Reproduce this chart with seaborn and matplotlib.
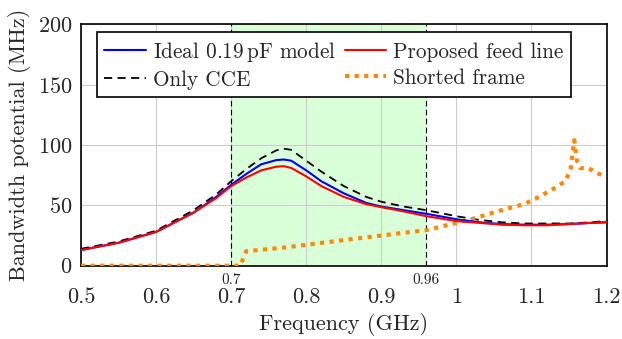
import numpy as np
import pandas as pd
import matplotlib
matplotlib.use("Agg")
import matplotlib.pyplot as plt
import seaborn as sns

# frequency samples (GHz) for the three capacitive curves
freq = [0.50, 0.55, 0.60, 0.65, 0.68, 0.70, 0.72, 0.74, 0.76, 0.77, 0.78,
        0.80, 0.82, 0.85, 0.88, 0.90, 0.93, 0.96, 1.00, 1.03, 1.06, 1.09,
        1.12, 1.15, 1.18, 1.20]
ideal = [13, 19, 28, 44, 57, 67, 76, 84, 87.5, 88, 87,
         79, 70, 60, 52, 49, 46, 43, 38.5, 36, 34.5, 34,
         34, 34.5, 35.5, 36]
proposed = [13, 19, 28, 44, 56, 66, 73, 79, 82, 82.5, 81,
            74, 66, 57, 51, 48.5, 45, 41, 37, 35.5, 34, 33.5,
            33.5, 34.5, 35.5, 36]
only_cce = [14, 20, 29, 46, 59, 70, 80, 89, 95.5, 97, 96,
            87, 78, 66, 57, 53, 49, 46, 41, 38, 36, 35,
            35, 35, 36, 37]

# shorted frame curve
freq_sf = [0.50, 0.60, 0.70, 0.712, 0.72, 0.77, 0.86, 0.96, 1.017, 1.06,
           1.09, 1.11, 1.13, 1.145, 1.152, 1.157, 1.160, 1.165, 1.175,
           1.19, 1.20]
shorted = [0, 0, 0, 0, 12, 15, 22, 29.5, 38, 46,
           51, 57, 64, 70, 80, 104, 88, 81, 81,
           76, 74]

band_lo, band_hi = 0.7, 0.96

sns.set_theme(style="whitegrid")
plt.rcParams['font.family'] = ['cmr10', 'DejaVu Serif']
plt.rcParams['mathtext.fontset'] = 'cm'
plt.rcParams['axes.formatter.use_mathtext'] = True

df = pd.DataFrame({"f": freq, "ideal": ideal, "prop": proposed, "cce": only_cce})
df_sf = pd.DataFrame({"f": freq_sf, "sf": shorted})

fig = plt.figure(figsize=(6.22, 3.39), dpi=100)
ax = fig.add_axes([0.1302, 0.2162, 0.845, 0.712])

ax.axvspan(band_lo, band_hi, color="#d9ffd9", zorder=0)
ax.axvline(band_lo, color="black", ls=(0, (5, 3)), lw=0.8, zorder=1)
ax.axvline(band_hi, color="black", ls=(0, (5, 3)), lw=0.8, zorder=1)

sns.lineplot(data=df, x="f", y="ideal", ax=ax, color="blue", lw=1.5,
             label="Ideal 0.19$\\,$pF model", zorder=4)
sns.lineplot(data=df, x="f", y="prop", ax=ax, color="red", lw=1.5,
             label="Proposed feed line", zorder=4)
sns.lineplot(data=df, x="f", y="cce", ax=ax, color="black", lw=1.3,
             ls=(0, (4.5, 3)), label="Only CCE", zorder=3)
sns.lineplot(data=df_sf, x="f", y="sf", ax=ax, color="#ff8800", lw=3,
             ls=(0, (1, 1.3)), label="Shorted frame", zorder=3)

ax.set_xlim(0.5, 1.2)
ax.set_ylim(0, 200)
ax.set_xticks([0.5, 0.6, 0.7, 0.8, 0.9, 1.0, 1.1, 1.2])
ax.set_xticklabels(["0.5", "0.6", "0.7", "0.8", "0.9", "1", "1.1", "1.2"])
ax.set_yticks([0, 50, 100, 150, 200])
ax.tick_params(labelsize=16, length=0)
ax.tick_params(axis="x", pad=16)
ax.tick_params(axis="y", pad=6)
ax.set_xlabel("Frequency (GHz)", fontsize=16, labelpad=4)
ax.set_ylabel("Bandwidth potential (MHz)", fontsize=16, labelpad=5)
ax.grid(color="#cccccc", lw=0.8)
for s in ax.spines.values():
    s.set_color("black")
    s.set_linewidth(1.2)

# small labels for the band edges
for v, t in [(band_lo, "0.7"), (band_hi, "0.96")]:
    ax.text(v, -6.5, t, ha="center", va="top", fontsize=11)

# legend order: row-wise Ideal, Proposed / Only CCE, Shorted
h, l = ax.get_legend_handles_labels()
order = [0, 2, 1, 3]
leg = ax.legend([h[i] for i in order], [l[i] for i in order], ncol=2,
                loc="upper left", bbox_to_anchor=(0.030, 0.967),
                borderaxespad=0, fontsize=15.3,
                frameon=True, fancybox=False, edgecolor="black",
                framealpha=1, handlelength=1.95, columnspacing=0.4,
                handletextpad=0.35, borderpad=0.35, labelspacing=0.3)
leg.get_frame().set_linewidth(1.2)

fig.savefig("out.png", dpi=100)
